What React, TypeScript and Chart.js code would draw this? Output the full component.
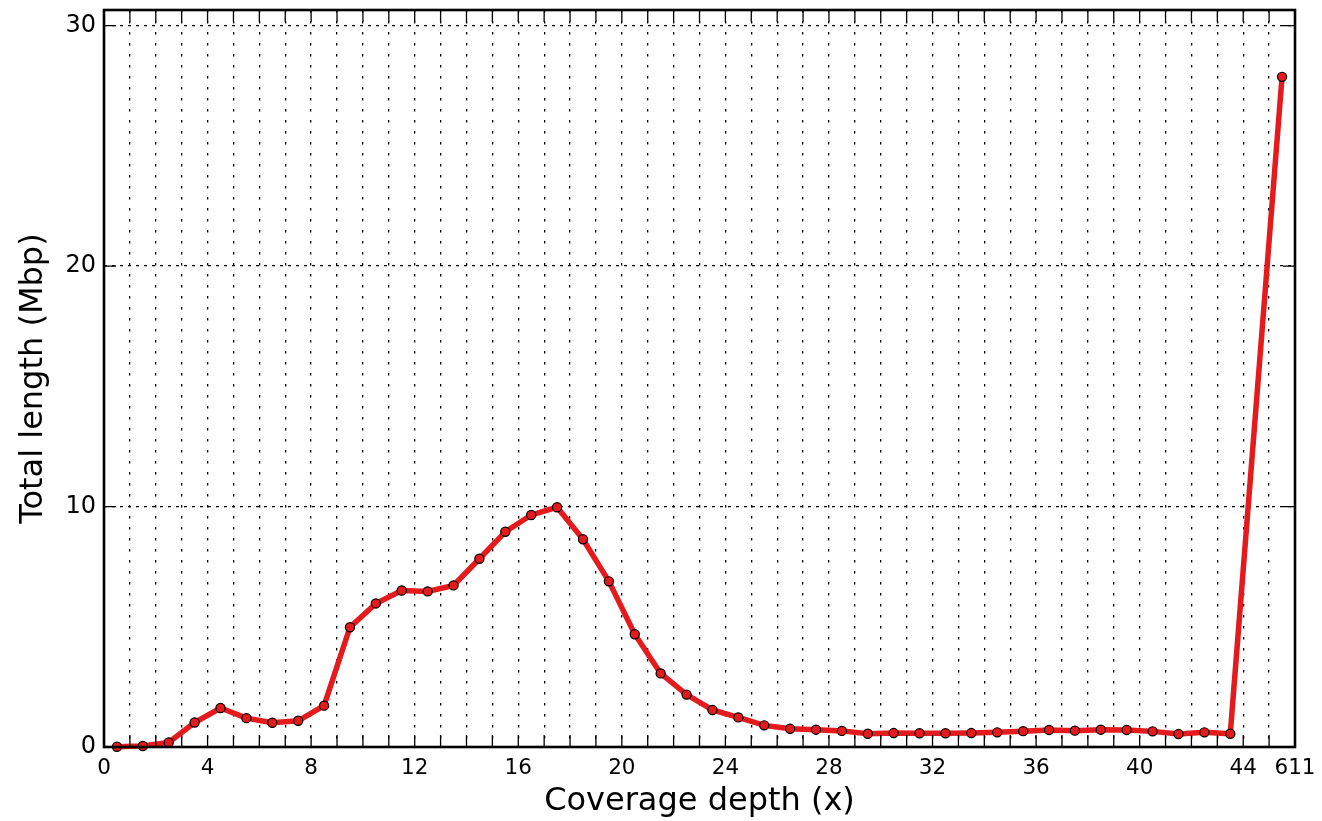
import React, { useEffect, useRef } from "react";
import { Chart, registerables } from "chart.js";

Chart.register(...registerables);

const depthBins = [
  0.5, 1.5, 2.5, 3.5, 4.5, 5.5, 6.5, 7.5, 8.5, 9.5, 10.5, 11.5, 12.5, 13.5, 14.5,
  15.5, 16.5, 17.5, 18.5, 19.5, 20.5, 21.5, 22.5, 23.5, 24.5, 25.5, 26.5, 27.5,
  28.5, 29.5, 30.5, 31.5, 32.5, 33.5, 34.5, 35.5, 36.5, 37.5, 38.5, 39.5, 40.5,
  41.5, 42.5, 43.5, 45.5,
];
const totalLengthMbp = [
  0.01, 0.04, 0.19, 1.02, 1.62, 1.2, 1.01, 1.09, 1.72, 4.98, 5.97, 6.51, 6.47,
  6.72, 7.83, 8.95, 9.65, 9.97, 8.64, 6.89, 4.69, 3.06, 2.18, 1.54, 1.23, 0.9,
  0.76, 0.72, 0.67, 0.55, 0.58, 0.57, 0.57, 0.58, 0.61, 0.66, 0.71, 0.68, 0.72,
  0.71, 0.65, 0.54, 0.61, 0.55, 27.87,
];
const xTickValues = [0, 4, 8, 12, 16, 20, 24, 28, 32, 36, 40, 44, 46];
const xTickLabels = ["0", "4", "8", "12", "16", "20", "24", "28", "32", "36", "40", "44", "611"];
const yTickValues = [0, 10, 20, 30];

const FONT = "'DejaVu Sans', sans-serif";

const frameTicks = {
  id: "frameTicks",
  afterDraw(chart: any) {
    const { ctx, chartArea } = chart;
    const xs = chart.scales.x;
    const ys = chart.scales.y;
    const { left, right, top, bottom } = chartArea;
    const tl = 12;
    ctx.save();
    ctx.strokeStyle = "#000";
    ctx.lineWidth = 1.3;
    for (let v = 1; v < 46; v++) {
      const px = xs.getPixelForValue(v);
      ctx.beginPath();
      ctx.moveTo(px, bottom);
      ctx.lineTo(px, bottom - tl);
      ctx.moveTo(px, top);
      ctx.lineTo(px, top + tl);
      ctx.stroke();
    }
    for (const v of yTickValues) {
      const py = ys.getPixelForValue(v);
      ctx.beginPath();
      ctx.moveTo(left, py);
      ctx.lineTo(left + tl, py);
      ctx.moveTo(right, py);
      ctx.lineTo(right - tl, py);
      ctx.stroke();
    }
    ctx.lineWidth = 2.6;
    ctx.strokeRect(left, top, right - left, bottom - top);
    ctx.restore();
  },
};

export default function App() {
  const ref = useRef<HTMLCanvasElement | null>(null);
  useEffect(() => {
    if (!ref.current) return;
    const chart = new Chart(ref.current, {
      type: "line",
      data: {
        datasets: [
          {
            data: depthBins.map((x, i) => ({ x, y: totalLengthMbp[i] })),
            borderColor: "#e41a1c",
            backgroundColor: "#e41a1c",
            borderWidth: 5.5,
            pointRadius: 4.6,
            pointBorderWidth: 1.2,
            pointBorderColor: "#000",
            pointBackgroundColor: "#e41a1c",
            tension: 0,
            clip: false as any,
          },
        ],
      },
      options: {
        animation: false,
        responsive: false,
        devicePixelRatio: 1,
        layout: { padding: { left: 0, right: 27, top: 10, bottom: 0 } },
        plugins: { legend: { display: false }, tooltip: { enabled: false }, title: { display: false } },
        scales: {
          x: {
            type: "linear",
            min: 0,
            max: 46,
            afterFit: (s: any) => {
              s.height = 74;
              s.paddingLeft = 0;
              s.paddingRight = 0;
            },
            ticks: {
              stepSize: 1,
              autoSkip: false,
              maxRotation: 0,
              includeBounds: false,
              padding: 9,
              color: "#000",
              font: { family: FONT, size: 21.5 },
              callback: (v: any) => {
                const i = xTickValues.indexOf(Number(v));
                return i >= 0 ? xTickLabels[i] : "";
              },
            },
            grid: {
              drawTicks: false,
              color: (c: any) => (c.tick && (c.tick.value === 0 || c.tick.value === 46) ? "rgba(0,0,0,0)" : "#000"),
              lineWidth: 1.3,
            },
            border: { display: false, dash: [2.5, 8.5] },
            title: {
              display: true,
              text: "Coverage depth (x)",
              color: "#000",
              font: { family: FONT, size: 32 },
              padding: { top: 0, bottom: 0 },
            },
          },
          y: {
            type: "linear",
            min: 0,
            max: 30.65,
            afterFit: (s: any) => {
              s.width = 104;
              s.paddingTop = 0;
              s.paddingBottom = 0;
            },
            ticks: {
              stepSize: 10,
              includeBounds: false,
              padding: 8,
              color: "#000",
              font: { family: FONT, size: 24 },
            },
            grid: {
              drawTicks: false,
              color: "#000",
              lineWidth: 1.3,
            },
            border: { display: false, dash: [3, 5] },
            title: {
              display: true,
              text: "Total length (Mbp)",
              color: "#000",
              font: { family: FONT, size: 32 },
              padding: { top: 14, bottom: 0 },
            },
          },
        },
      },
      plugins: [frameTicks],
    });
    return () => chart.destroy();
  }, []);
  return (
    <div style={{ position: "fixed", left: 0, top: 0, width: 1322, height: 821, background: "#fff" }}>
      <canvas ref={ref} width={1322} height={821} style={{ width: 1322, height: 821, display: "block" }} />
    </div>
  );
}
